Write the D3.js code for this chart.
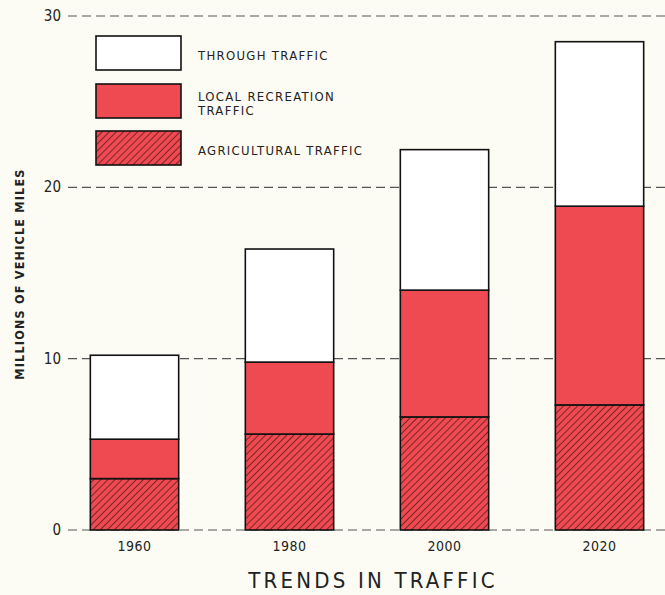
<!DOCTYPE html>
<html lang="en">
<head>
<meta charset="UTF-8">
<title>Trends in Traffic</title>
<script src="https://d3js.org/d3.v7.min.js"></script>
<style>
  body { margin: 0; background: #fcfcf4; }
  svg { display: block; font-family: "DejaVu Sans Condensed", "DejaVu Sans", sans-serif; font-stretch: condensed; }
</style>
</head>
<body>
<div id="chart"></div>
<script>
// data (millions of vehicle miles)
var years = ["1960", "1980", "2000", "2020"]
var agricultural = [3.0, 5.6, 6.6, 7.3]
var localRecreation = [2.3, 4.2, 7.4, 11.6]
var through = [4.9, 6.6, 8.2, 9.6]
var yTicks = [0, 10, 20, 30]
var seriesKeys = ["agricultural", "local", "through"]

var width = 665, height = 595
var red = "#ef4a52"

var rows = years.map(function (y, i) {
    return { year: y, agricultural: agricultural[i], local: localRecreation[i], through: through[i] }
})

var svg = d3.select("#chart").append("svg")
    .attr("width", width)
    .attr("height", height)

var defs = svg.append("defs")
var hatch = defs.append("pattern")
    .attr("id", "hatch")
    .attr("patternUnits", "userSpaceOnUse")
    .attr("width", 5)
    .attr("height", 5)
    .attr("patternTransform", "rotate(45)")
hatch.append("rect").attr("width", 5).attr("height", 5).attr("fill", red)
hatch.append("line")
    .attr("x1", 0).attr("y1", 0).attr("x2", 0).attr("y2", 5)
    .attr("stroke", "#3a1010").attr("stroke-width", 1.3)

var fills = { through: "#ffffff", local: red, agricultural: "url(#hatch)" }

var x = d3.scaleBand()
    .domain(years)
    .range([57, 677])
    .paddingInner(0.43)
    .paddingOuter(0.215)

var y = d3.scaleLinear()
    .domain([0, 30])
    .range([530, 16])

// dashed gridlines
svg.append("g").selectAll("line")
    .data(yTicks)
    .enter().append("line")
    .attr("x1", 68).attr("x2", width)
    .attr("y1", function (d) { return y(d) })
    .attr("y2", function (d) { return y(d) })
    .attr("stroke", "#555")
    .attr("stroke-width", 1.2)
    .attr("stroke-dasharray", "9,5")

svg.append("g").selectAll("text")
    .data(yTicks)
    .enter().append("text")
    .attr("x", 61)
    .attr("y", function (d) { return y(d) + 5 })
    .attr("text-anchor", "end")
    .attr("font-size", 15)
    .attr("fill", "#222")
    .text(function (d) { return d })

// stacked bars
var stack = d3.stack().keys(seriesKeys)(rows)

svg.append("g").selectAll("g")
    .data(stack)
    .enter().append("g")
    .attr("fill", function (d) { return fills[d.key] })
    .selectAll("rect")
    .data(function (d) { return d })
    .enter().append("rect")
    .attr("x", function (d) { return x(d.data.year) })
    .attr("width", x.bandwidth())
    .attr("y", function (d) { return y(d[1]) })
    .attr("height", function (d) { return y(d[0]) - y(d[1]) })
    .attr("stroke", "#111")
    .attr("stroke-width", 1.6)

// year labels
svg.append("g").selectAll("text")
    .data(years)
    .enter().append("text")
    .attr("x", function (d) { return x(d) + x.bandwidth() / 2 })
    .attr("y", 551)
    .attr("text-anchor", "middle")
    .attr("font-size", 14)
    .attr("letter-spacing", 0.5)
    .attr("fill", "#222")
    .text(function (d) { return d })

// axis title
svg.append("text")
    .attr("transform", "translate(24,274) rotate(-90)")
    .attr("text-anchor", "middle")
    .attr("font-size", 12.5)
    .attr("font-weight", "bold")
    .attr("letter-spacing", 1.2)
    .attr("fill", "#222")
    .text("MILLIONS OF VEHICLE MILES")

svg.append("text")
    .attr("x", 373)
    .attr("y", 588)
    .attr("text-anchor", "middle")
    .attr("font-size", 22)
    .attr("letter-spacing", 3.2)
    .attr("fill", "#222")
    .text("TRENDS IN TRAFFIC")

// legend
var legend = [
    { key: "through", lines: ["THROUGH TRAFFIC"], top: 36 },
    { key: "local", lines: ["LOCAL RECREATION", "TRAFFIC"], top: 84 },
    { key: "agricultural", lines: ["AGRICULTURAL TRAFFIC"], top: 131 }
]

var lg = svg.append("g").selectAll("g")
    .data(legend)
    .enter().append("g")

lg.append("rect")
    .attr("x", 96)
    .attr("y", function (d) { return d.top })
    .attr("width", 85)
    .attr("height", 34)
    .attr("fill", function (d) { return fills[d.key] })
    .attr("stroke", "#111")
    .attr("stroke-width", 1.6)

lg.append("text")
    .attr("x", 198)
    .attr("y", function (d) { return d.lines.length > 1 ? d.top + 17 : d.top + 24 })
    .attr("font-size", 13)
    .attr("letter-spacing", 1.3)
    .attr("fill", "#222")
    .selectAll("tspan")
    .data(function (d) { return d.lines })
    .enter().append("tspan")
    .attr("x", 198)
    .attr("dy", function (d, i) { return i ? 13.5 : 0 })
    .text(function (d) { return d })
</script>
</body>
</html>
